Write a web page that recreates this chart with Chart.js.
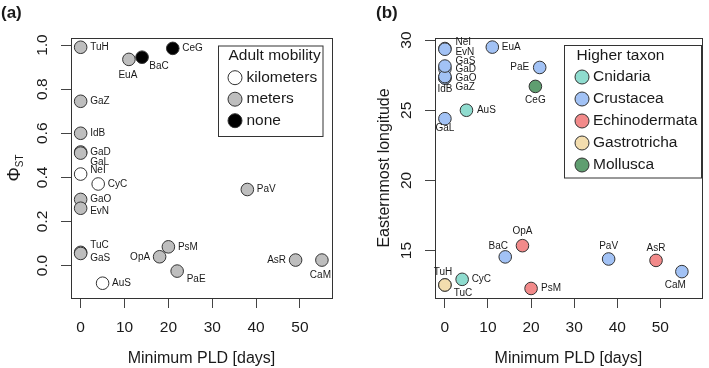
<!DOCTYPE html>
<html lang="en">
<head>
<meta charset="UTF-8">
<title>PhiST and easternmost longitude against minimum PLD</title>
<script src="https://cdn.jsdelivr.net/npm/chart.js"></script>
<style>
  body { margin: 0; padding: 0; background: #fff; }
  #wrap { position: relative; width: 709px; height: 368px; }
  canvas { position: absolute; top: 0; }
  #left { left: 0; }
  #right { left: 355px; }
</style>
</head>
<body>
<div id="wrap">
  <canvas id="left" width="355" height="368"></canvas>
  <canvas id="right" width="354" height="368"></canvas>
</div>
<script>
// species codes, in plotting order
const species   = ['TuH','EuA','BaC','CeG','GaZ','IdB','GaD','GaL','NeI','CyC','GaO','EvN','TuC','GaS','OpA','PsM','PaE','AuS','PaV','AsR','CaM'];
const minPLD    = [0, 11, 14, 21, 0, 0, 0, 0, 0, 4, 0, 0, 0, 0, 18, 20, 22, 5, 38, 49, 55];
const phiST     = [0.99, 0.935, 0.945, 0.985, 0.745, 0.6, 0.515, 0.51, 0.415, 0.37, 0.3, 0.26, 0.06, 0.055, 0.04, 0.085, -0.025, -0.08, 0.345, 0.025, 0.025];
const mobility  = ['meters','meters','none','none','meters','meters','meters','meters','kilometers','kilometers','meters','meters','meters','meters','meters','meters','meters','kilometers','meters','meters','meters'];
const longitude = [12.55, 29.5, 14.55, 26.7, 27.3, 27.3, 27.95, 24.4, 29.4, 12.95, 27.4, 29.35, 12.55, 28.15, 15.35, 12.3, 28.05, 25.0, 14.4, 14.3, 13.5];
const taxon     = ['Gastrotricha','Crustacea','Crustacea','Mollusca','Crustacea','Crustacea','Crustacea','Crustacea','Crustacea','Cnidaria','Crustacea','Crustacea','Gastrotricha','Crustacea','Echinodermata','Echinodermata','Crustacea','Cnidaria','Crustacea','Echinodermata','Crustacea'];

const mobilityClasses = ['kilometers', 'meters', 'none'];
const taxonClasses    = ['Cnidaria', 'Crustacea', 'Echinodermata', 'Gastrotricha', 'Mollusca'];

const pldTicks = [0, 10, 20, 30, 40, 50];
const phiTicks = [0, 0.2, 0.4, 0.6, 0.8, 1.0];
const phiTickLabels = ['0.0', '0.2', '0.4', '0.6', '0.8', '1.0'];
const lonTicks = [15, 20, 25, 30];
const lonTickLabels = ['15', '20', '25', '30'];

// styling
const FONT = '"Liberation Sans", Arial, Helvetica, sans-serif';
const INK = '#1a1a1a';
const mobilityFill = { kilometers: '#ffffff', meters: '#bebebe', none: '#000000' };
const taxonFill = { Cnidaria: '#8fdccf', Crustacea: '#a2c2f5', Echinodermata: '#f28a8a', Gastrotricha: '#f3ddae', Mollusca: '#5f9e70' };

// label placement next to each point: [dx, dy, align]
const labelsA = {
  TuH: [9.5, 0, 'left'], EuA: [-1, 16, 'center'], BaC: [17, 9, 'center'], CeG: [9.5, 0, 'left'],
  GaZ: [9.5, 0, 'left'], IdB: [9.5, 0, 'left'], GaD: [9.5, 0, 'left'], GaL: [9.5, 9, 'left'],
  NeI: [9.5, -3.5, 'left'], CyC: [9.5, 0, 'left'], GaO: [9.5, 0, 'left'], EvN: [9.5, 3.5, 'left'],
  TuC: [9.5, -7, 'left'], GaS: [9.5, 5, 'left'], OpA: [-9.5, 0, 'right'], PsM: [9.5, 0, 'left'],
  PaE: [9.5, 8, 'left'], AuS: [9.5, 0.5, 'left'], PaV: [9.5, 0, 'left'], AsR: [-9.5, 0, 'right'],
  CaM: [-1.5, 15, 'center']
};
const labelsB = {
  NeI: [10.5, -6, 'left'], EvN: [10.5, 3, 'left'], GaS: [10.5, -5, 'left'], GaD: [10.5, 0.5, 'left'],
  GaO: [10.5, 2, 'left'], GaZ: [10.5, 9, 'left'], IdB: [0, 11, 'center'], EuA: [9.5, 0, 'left'],
  PaE: [-10.5, 0, 'right'], CeG: [0, 14, 'center'], AuS: [10.5, 0, 'left'], GaL: [0, 10, 'center'],
  BaC: [-7, -11, 'center'], OpA: [0, -14.5, 'center'], PaV: [0, -13, 'center'], AsR: [0, -12, 'center'],
  CaM: [-6.5, 14, 'center'], TuH: [-2, -13, 'center'], TuC: [18, 8, 'center'], CyC: [9.5, 0, 'left'],
  PsM: [10, 0, 'left']
};

function decor(opt) {
  return {
    id: 'decor',
    afterDatasetsDraw(chart) {
      const ctx = chart.ctx;
      const a = chart.chartArea;
      const ys = chart.scales.y;
      ctx.save();
      // box
      ctx.strokeStyle = '#333';
      ctx.lineWidth = 1;
      ctx.strokeRect(Math.round(a.left) + 0.5, Math.round(a.top) + 0.5, Math.round(a.right - a.left), Math.round(a.bottom - a.top));

      ctx.fillStyle = INK;
      // y tick labels (rotated, R style)
      ctx.font = '15.5px ' + FONT;
      ctx.textAlign = 'center';
      ctx.textBaseline = 'middle';
      opt.yTicks.forEach((v, k) => {
        ctx.save();
        ctx.translate(a.left - 28, ys.getPixelForValue(v));
        ctx.rotate(-Math.PI / 2);
        ctx.fillText(opt.yTickLabels[k], 0, 0);
        ctx.restore();
      });

      // x title
      ctx.font = '16px ' + FONT;
      ctx.fillText('Minimum PLD [days]', (a.left + a.right) / 2, 359);

      // y title
      ctx.save();
      ctx.translate(opt.yTitleX, (a.top + a.bottom) / 2);
      ctx.rotate(-Math.PI / 2);
      if (opt.yTitle === 'phi') {
        ctx.font = '18px ' + FONT;
        const w1 = ctx.measureText('Φ').width;
        ctx.font = '10px ' + FONT;
        const w2 = ctx.measureText('ST').width;
        ctx.textAlign = 'left';
        ctx.font = '18px ' + FONT;
        ctx.fillText('Φ', -(w1 + w2) / 2, 0);
        ctx.font = '10px ' + FONT;
        ctx.fillText('ST', -(w1 + w2) / 2 + w1, 5);
      } else {
        ctx.font = '16px ' + FONT;
        ctx.fillText(opt.yTitle, 0, 0);
      }
      ctx.restore();

      // panel letter
      ctx.font = 'bold 17px ' + FONT;
      ctx.textAlign = 'left';
      ctx.fillText(opt.letter, opt.letterX, 13);

      // point labels
      ctx.font = '10px ' + FONT;
      const pts = chart.getDatasetMeta(0).data;
      species.forEach((s, i) => {
        const p = opt.placement[s];
        ctx.textAlign = p[2];
        ctx.fillText(s, pts[i].x + p[0], pts[i].y + p[1]);
      });

      // legend
      const L = opt.legend;
      ctx.fillStyle = '#fff';
      ctx.fillRect(L.box[0], L.box[1], L.box[2] - L.box[0], L.box[3] - L.box[1]);
      ctx.strokeStyle = '#333';
      ctx.strokeRect(L.box[0] + 0.5, L.box[1] + 0.5, L.box[2] - L.box[0], L.box[3] - L.box[1]);
      ctx.fillStyle = INK;
      ctx.font = '15.5px ' + FONT;
      ctx.textAlign = 'left';
      ctx.fillText(L.title, L.titleX, L.titleY);
      L.items.forEach((name, k) => {
        const y = L.rowY + k * L.step;
        ctx.beginPath();
        ctx.arc(L.symX, y, 7, 0, Math.PI * 2);
        ctx.fillStyle = L.fill[name];
        ctx.fill();
        ctx.strokeStyle = '#333';
        ctx.stroke();
        ctx.fillStyle = INK;
        ctx.fillText(name, L.textX, y);
      });
      ctx.restore();
    }
  };
}

function axes(xMin, xMax, yMin, yMax, yTicks, yWidth) {
  const grid = { display: true, drawOnChartArea: false, drawTicks: true, tickLength: 10, color: '#444', lineWidth: 1 };
  return {
    x: {
      type: 'linear', min: xMin, max: xMax,
      afterBuildTicks: s => { s.ticks = pldTicks.map(v => ({ value: v })); },
      afterFit: s => { s.height = 70; },
      grid: grid,
      border: { display: false },
      ticks: { font: { size: 15.5, family: FONT }, color: INK, padding: 10, maxRotation: 0 }
    },
    y: {
      type: 'linear', min: yMin, max: yMax,
      afterBuildTicks: s => { s.ticks = yTicks.map(v => ({ value: v })); },
      afterFit: s => { s.width = yWidth; },
      grid: grid,
      border: { display: false },
      ticks: { display: false }
    }
  };
}

function baseOptions(padRight, scales) {
  return {
    responsive: false,
    animation: false,
    devicePixelRatio: 1,
    layout: { padding: { top: 38, right: padRight, bottom: 0, left: 0 } },
    plugins: { legend: { display: false }, tooltip: { enabled: false } },
    scales: scales
  };
}

// (a) PhiST
new Chart(document.getElementById('left'), {
  type: 'scatter',
  data: {
    datasets: [{
      data: species.map((s, i) => ({ x: minPLD[i], y: phiST[i] })),
      backgroundColor: mobility.map(m => mobilityFill[m]),
      borderColor: '#333',
      borderWidth: 1,
      pointRadius: 6.3
    }]
  },
  options: baseOptions(23, axes(-2.2, 57.3, -0.147, 1.032, phiTicks, 71)),
  plugins: [decor({
    yTicks: phiTicks, yTickLabels: phiTickLabels, yTitle: 'phi', yTitleX: 15,
    letter: '(a)', letterX: 1, placement: labelsA,
    legend: {
      box: [218, 45.5, 322.5, 136], title: 'Adult mobility', titleX: 228.5, titleY: 56,
      items: mobilityClasses, fill: mobilityFill, rowY: 77.7, step: 21.5, symX: 235, textX: 246.5
    }
  })]
});

// (b) Easternmost longitude
new Chart(document.getElementById('right'), {
  type: 'scatter',
  data: {
    datasets: [{
      data: species.map((s, i) => ({ x: minPLD[i], y: longitude[i] })),
      backgroundColor: taxon.map(t => taxonFill[t]),
      borderColor: '#333',
      borderWidth: 1,
      pointRadius: 6.3
    }]
  },
  options: baseOptions(1.5, axes(-2.3, 59.6, 11.62, 30.15, lonTicks, 80)),
  plugins: [decor({
    yTicks: lonTicks, yTickLabels: lonTickLabels, yTitle: 'Easternmost longitude', yTitleX: 30,
    letter: '(b)', letterX: 21, placement: labelsB,
    legend: {
      box: [209, 45, 346, 177.5], title: 'Higher taxon', titleX: 221.5, titleY: 55.5,
      items: taxonClasses, fill: taxonFill, rowY: 77, step: 22, symX: 227, textX: 238
    }
  })]
});
</script>
</body>
</html>
